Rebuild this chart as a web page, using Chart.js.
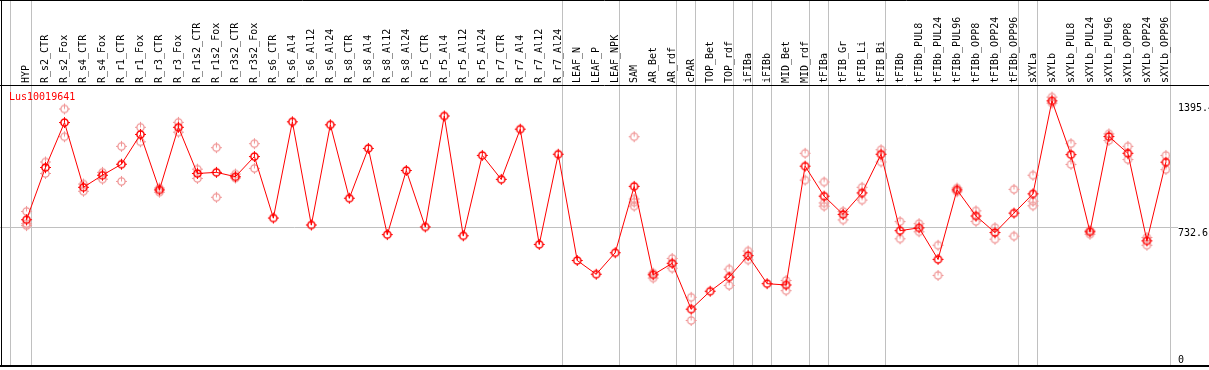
<!DOCTYPE html>
<html><head><meta charset="utf-8">
<script src="https://cdn.jsdelivr.net/npm/chart.js@4.4.1/dist/chart.umd.min.js"></script>
<style>html,body{margin:0;padding:0;background:#fff;overflow:hidden}canvas{display:block}</style>
</head><body>
<canvas id="c" width="1209" height="370"></canvas>
<script>
const geneName = 'Lus10019641';
const categories = ['HYP','R_s2_CTR','R_s2_Fox','R_s4_CTR','R_s4_Fox','R_r1_CTR','R_r1_Fox','R_r3_CTR','R_r3_Fox','R_r1s2_CTR','R_r1s2_Fox','R_r3s2_CTR','R_r3s2_Fox','R_s6_CTR','R_s6_Al4','R_s6_Al12','R_s6_Al24','R_s8_CTR','R_s8_Al4','R_s8_Al12','R_s8_Al24','R_r5_CTR','R_r5_Al4','R_r5_Al12','R_r5_Al24','R_r7_CTR','R_r7_Al4','R_r7_Al12','R_r7_Al24','LEAF_N','LEAF_P','LEAF_NPK','SAM','AR_Bet','AR_rdf','cPAR','TOP_Bet','TOP_rdf','iFIBa','iFIBb','MID_Bet','MID_rdf','tFIBa','tFIB_Gr','tFIB_Li','tFIB_Bi','tFIBb','tFIBb_PUL8','tFIBb_PUL24','tFIBb_PUL96','tFIBb_OPP8','tFIBb_OPP24','tFIBb_OPP96','sXYLa','sXYLb','sXYLb_PUL8','sXYLb_PUL24','sXYLb_PUL96','sXYLb_OPP8','sXYLb_OPP24','sXYLb_OPP96'];
const means = [770,1047,1285,942,1006,1064,1222,928,1260,1015,1021,998,1105,779,1289,742,1273,884,1148,691,1031,732,1320,685,1111,984,1250,639,1117,554,481,595,947,478,539,296,391,466,580,431,424,1054,895,798,912,1117,712,727,560,928,790,702,805,907,1400,1115,706,1211,1122,658,1075];
const replicates = [
  [814,749,739],[1076,1015],[1357,1210],[959,921],[1021,985],[1159,973],[1260,1183],[938,916],[1286,1234],[1038,989],[1152,889],[1012,991],[1173,1042],
  [],[],[],[],[],[],[],[],[],[],[],[],[],[],[],[],[],[],[],
  [1210,880,863,842],[487,461],[565,513],[359,236],[],[508,422],[604,557],[],[448,394],[1122,980],
  [970,859,842],[814,769],[942,874],[1141,1076],[760,669],[749,706],[635,475],[938,918],[817,761],[728,667],[931,683],
  [1006,868,844],[1420,1388],[1173,1063],[714,693],[1225,1190],[1159,1089],[676,635],[1111,1036]
];
const groupEnds = [0,28,31,34,35,37,38,39,41,42,45,52,53,60];
const yTickValues = [0, 732.6, 1395.4];
const yTickLabels = ['0', '732.6', '1395.4'];
const referenceLine = 732.6;

const FAMILY = "'DejaVu Sans Mono', monospace";
const FONT = "10px " + FAMILY;

function makeMarker(color, lw) {
  const c = document.createElement('canvas');
  c.width = 13; c.height = 13;
  const g = c.getContext('2d');
  g.strokeStyle = color;
  g.lineWidth = lw;
  g.beginPath(); g.arc(6.5, 6.5, 3.6, 0, Math.PI * 2); g.stroke();
  g.lineWidth = 1;
  g.beginPath();
  g.moveTo(6.5, 1); g.lineTo(6.5, 6.5);
  g.moveTo(6.5, 10); g.lineTo(6.5, 12);
  g.moveTo(1, 6.5); g.lineTo(3, 6.5);
  g.moveTo(10, 6.5); g.lineTo(12, 6.5);
  g.stroke();
  return c;
}
const meanMarker = makeMarker('#ff0000', 1.5);
const repMarker = makeMarker('rgb(240,150,150)', 1.3);

const meanPts = means.map((v, i) => ({x: i, y: v}));
const repPts = [];
replicates.forEach((arr, i) => arr.forEach(v => repPts.push({x: i, y: v})));

const framePlugin = {
  id: 'frame',
  beforeDraw(chart) {
    const {ctx, chartArea: a, scales: {x, y}} = chart;
    ctx.save();
    ctx.fillStyle = '#fff'; ctx.fillRect(0, 0, chart.width, chart.height);
    ctx.strokeStyle = '#c0c0c0'; ctx.lineWidth = 1;
    ctx.beginPath();
    const seps = [a.left].concat(groupEnds.map(k => x.getPixelForValue(k + 0.22)));
    seps.forEach(px => { const xx = Math.round(px) + 0.5; ctx.moveTo(xx, 0); ctx.lineTo(xx, a.bottom); });
    const yy = Math.round(y.getPixelForValue(referenceLine)) + 0.5;
    ctx.moveTo(0, yy); ctx.lineTo(a.right + 8, yy);
    ctx.stroke();
    ctx.strokeStyle = '#000';
    ctx.beginPath();
    ctx.moveTo(0, 0.5); ctx.lineTo(chart.width, 0.5);
    ctx.moveTo(1.5, 0); ctx.lineTo(1.5, a.bottom + 2);
    const ty = Math.round(a.top) + 0.5;
    ctx.moveTo(0, ty); ctx.lineTo(chart.width, ty);
    ctx.stroke();
    ctx.lineWidth = 2;
    ctx.beginPath();
    const by = Math.round(a.bottom) + 1;
    ctx.moveTo(0, by); ctx.lineTo(chart.width, by);
    ctx.stroke();
    ctx.restore();
  },
  afterDraw(chart) {
    const {ctx, chartArea: a, scales: {y}} = chart;
    ctx.save();
    ctx.font = FONT;
    ctx.textAlign = 'left';
    ctx.textBaseline = 'alphabetic';
    ctx.fillStyle = '#000';
    yTickValues.forEach((v, i) => {
      const py = y.getPixelForValue(v);
      const ly = v === 0 ? py - 2.5 : py + 9;
      ctx.fillText(yTickLabels[i], a.right + 8, ly);
    });
    ctx.fillStyle = '#ff0000';
    ctx.fillText(geneName, a.left - 1, a.top + 15);
    ctx.restore();
  }
};

new Chart(document.getElementById('c'), {
  type: 'line',
  data: {
    datasets: [
      {
        label: 'mean', data: meanPts, borderColor: '#ff0000', borderWidth: 1,
        pointStyle: meanMarker, pointRadius: 4, fill: false, tension: 0, order: 0
      },
      {
        label: 'replicates', data: repPts, showLine: false,
        pointStyle: repMarker, pointRadius: 4, borderColor: 'rgb(240,150,150)', order: 1
      }
    ]
  },
  options: {
    responsive: false,
    animation: false,
    devicePixelRatio: 1,
    layout: {padding: {left: 10, right: 0, top: 0, bottom: 2}},
    plugins: {legend: {display: false}, tooltip: {enabled: false}, title: {display: false}},
    scales: {
      x: {
        type: 'linear', position: 'top', min: -0.869, max: 60.216,
        afterBuildTicks: s => { s.ticks = categories.map((_, i) => ({value: i})); },
        afterFit: s => { s.height = 85; },
        grid: {display: false, drawTicks: false},
        border: {display: false},
        ticks: {
          autoSkip: false, maxRotation: 90, minRotation: 90, padding: 2, labelOffset: 12, color: '#000',
          font: {family: FAMILY, size: 10},
          callback: v => categories[v] !== undefined ? categories[v] : ''
        }
      },
      y: {
        type: 'linear', position: 'right', min: 0, max: 1484,
        afterBuildTicks: s => { s.ticks = yTickValues.map(v => ({value: v})); },
        afterFit: s => { s.width = 39; },
        grid: {display: false, drawTicks: false},
        border: {display: false},
        ticks: {display: false}
      }
    }
  },
  plugins: [framePlugin]
});
</script>
</body></html>
